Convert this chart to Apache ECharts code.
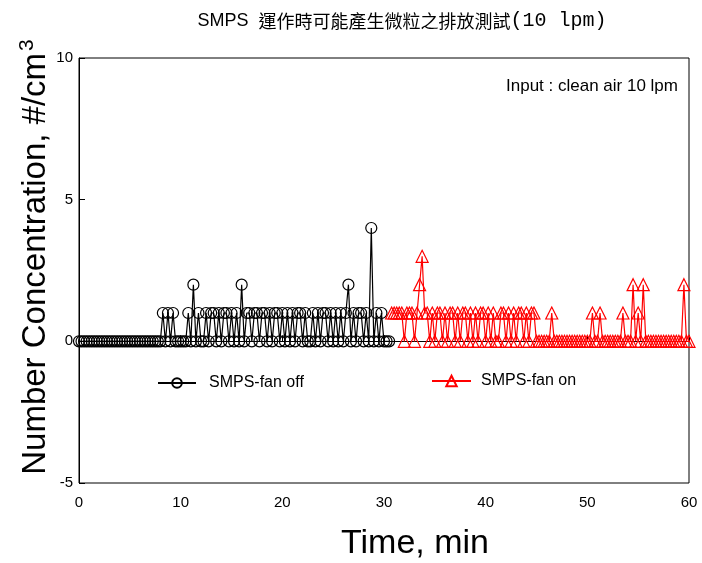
<!DOCTYPE html>
<html>
<head>
<meta charset="utf-8">
<script src="https://cdn.jsdelivr.net/npm/echarts@6/dist/echarts.min.js"></script>
<style>html,body{margin:0;padding:0;background:#fff}#c{width:702px;height:563px}</style>
</head>
<body>
<div id="c"></div>
<script>
// ---- data ----
var sampleStepMin = 0.25;           // sampling interval, min
var offStartMin = 0;                // first sample time of "fan off" run
var onStartMin = 30.75;             // first sample time of "fan on" run
var fanOffValues = [
  0,0,0,0,0,0,0,0,0,0, 0,0,0,0,0,0,0,0,0,0, 0,0,0,0,0,0,0,0,0,0, 0,0,0,
  1,0,1,0,1, 0,0,0,0,0, 1,0,2,0,1,0,0,
  1,0,1,1,0,1,0,1,1,0, 1,0,1,0,2,0,1,1,0,1, 1,0,1,1,0,1,0,1,1,0,
  1,0,1,0,1,0,1,1,0,1, 0,0,1,0,1,0,1,1,0,1, 0,1,0,1,0,1,2,0,1,0,
  1,1,0,1,0,4,0,1,0,1, 0,0,0
];
var fanOnValues = [
  1,1,1,1,1,0,1,1,1,0, 1,2,3,1,1,0,1,0,1,1, 0,1,0,1,1,0,1,0,1,1,
  0,1,0,1,0,1,1,0,1,0, 1,0,0,1,1,0,1,0,1,0, 1,1,0,1,0,1,1,0,0,0,
  0,0,0,1,0,0,0,0,0,0, 0,0,0,0,0,0,0,0,0,1, 0,0,1,0,0,0,0,0,0,0,
  0,1,0,0,0,2,0,1,0,2, 0,0,0,0,0,0,0,0,0,0, 0,0,0,0,0,2,0,0
];
var xTicks = [0, 10, 20, 30, 40, 50, 60];
var yTicks = [-5, 0, 5, 10];
var seriesNames = ['SMPS-fan off', 'SMPS-fan on'];

function toPoints(start, vals) {
  return vals.map(function (v, i) { return [start + i * sampleStepMin, v]; });
}

var chart = echarts.init(document.getElementById('c'), null, {renderer: 'canvas'});
var sans = 'Liberation Sans, Arial, sans-serif';
chart.setOption({
  animation: false,
  backgroundColor: '#fff',
  grid: {left: 79, right: 13, top: 58, bottom: 80, show: true, borderColor: '#000', borderWidth: 1, backgroundColor: 'transparent'},
  xAxis: {
    type: 'value', min: xTicks[0], max: xTicks[xTicks.length - 1], interval: 10,
    axisLine: {lineStyle: {color: '#000', width: 1}},
    axisTick: {inside: true, length: 6, lineStyle: {color: '#000'}},
    axisLabel: {color: '#000', fontFamily: sans, fontSize: 15, margin: 12},
    splitLine: {show: false}
  },
  yAxis: {
    type: 'value', min: yTicks[0], max: yTicks[yTicks.length - 1], interval: 5,
    axisLine: {show: true, lineStyle: {color: '#000', width: 1}},
    axisTick: {show: true, inside: true, length: 6, lineStyle: {color: '#000'}},
    axisLabel: {color: '#000', fontFamily: sans, fontSize: 15, margin: 6},
    splitLine: {show: false}
  },
  legend: [
    {data: [seriesNames[0]], left: 152, top: 370, itemWidth: 38, itemHeight: 12, itemGap: 12,
     textStyle: {fontFamily: sans, fontSize: 16, color: '#000', padding: [0, 0, 0, 8]}},
    {data: [seriesNames[1]], left: 426, top: 368, itemWidth: 39, itemHeight: 13, itemGap: 11,
     textStyle: {fontFamily: sans, fontSize: 16, color: '#000', padding: [0, 0, 0, 5]}}
  ],
  series: [
    {
      name: seriesNames[0], type: 'line', data: toPoints(offStartMin, fanOffValues),
      symbol: 'circle', symbolSize: 11, showAllSymbol: true,
      lineStyle: {color: '#000', width: 1.2},
      itemStyle: {color: 'rgba(255,255,255,0)', borderColor: '#000', borderWidth: 1.2}
    },
    {
      name: seriesNames[1], type: 'line', data: toPoints(onStartMin, fanOnValues),
      symbol: 'triangle', symbolSize: 12, showAllSymbol: true,
      lineStyle: {color: '#ff0000', width: 1.2},
      itemStyle: {color: 'rgba(255,255,255,0)', borderColor: '#ff0000', borderWidth: 1.2}
    }
  ],
  graphic: [
    {type: 'text', x: 402, y: 21, style: {
      text: '{a|SMPS  }{b|運作時可能產生微粒之排放測試}{c|(10 lpm)}',
      align: 'center', verticalAlign: 'middle',
      rich: {
        a: {fontFamily: sans, fontSize: 18, fill: '#000'},
        b: {fontFamily: 'Noto Sans CJK TC', fontSize: 18, fill: '#000'},
        c: {fontFamily: 'Liberation Mono, monospace', fontSize: 20, fill: '#000'}
      }}},
    {type: 'text', x: 506, y: 86, style: {text: 'Input : clean air 10 lpm', fontFamily: sans, fontSize: 17, fill: '#000', verticalAlign: 'middle'}},
    {type: 'text', x: 415, y: 544, style: {text: 'Time, min', fontFamily: sans, fontSize: 34, fill: '#000', align: 'center', verticalAlign: 'middle'}},
    {type: 'text', x: 36, y: 257, rotation: Math.PI / 2, style: {
      text: 'Number Concentration, #/cm{s|3}', fontFamily: sans, fontSize: 33, fill: '#000', align: 'center', verticalAlign: 'middle',
      rich: {s: {fontFamily: sans, fontSize: 21, fill: '#000', verticalAlign: 'top', padding: [0, 0, 17, 2]}}
    }}
  ]
});
</script>
</body>
</html>
